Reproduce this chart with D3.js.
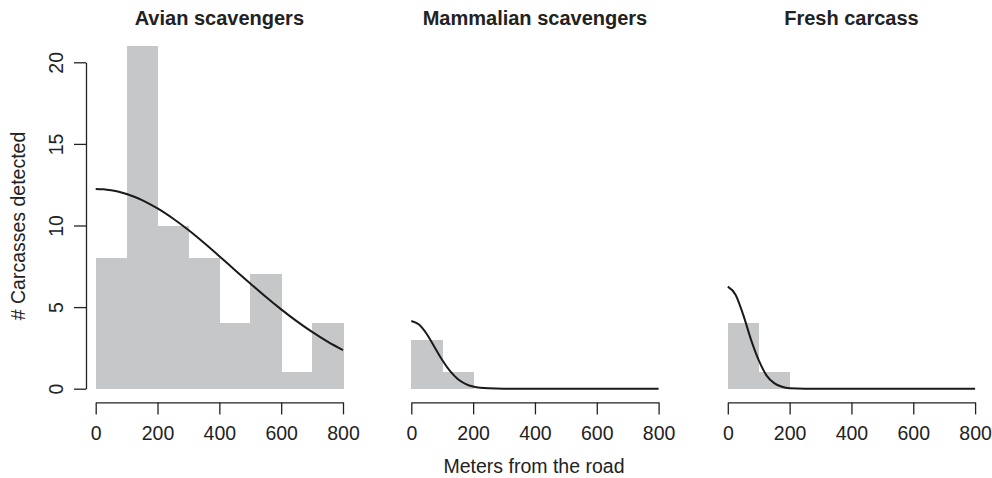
<!DOCTYPE html>
<html>
<head>
<meta charset="utf-8">
<script src="https://cdn.jsdelivr.net/npm/d3@7"></script>
<style>
    body { margin: 0; background: #fff; }
    svg { display: block; font-family: "Liberation Sans", Arial, Helvetica, sans-serif; }
</style>
</head>
<body>
<div id="chart"></div>
<script>

// panel titles and histogram bins (100 m wide)
var panelTitles = ["Avian scavengers", "Mammalian scavengers", "Fresh carcass"];
var binEdges = [0, 100, 200, 300, 400, 500, 600, 700, 800];

// carcasses detected per bin
var avianCounts = [8, 21, 10, 8, 4, 7, 1, 4];
var mammalCounts = [3, 1, 0, 0, 0, 0, 0, 0];
var freshCounts = [4, 1, 0, 0, 0, 0, 0, 0];

// fitted detection curves
var curveDist = [0, 25, 50, 75, 100, 125, 150, 175, 200, 250, 300, 350, 400, 450, 500, 550, 600, 650, 700, 750, 800];
var avianCurve = [12.24, 12.22, 12.16, 12.07, 11.93, 11.76, 11.55, 11.31, 11.05, 10.43, 9.72, 8.94, 8.12, 7.28, 6.45, 5.63, 4.86, 4.14, 3.48, 2.89, 2.37];
var mammalCurve = [4.15, 3.93, 3.35, 2.56, 1.76, 1.09, 0.60, 0.30, 0.13, 0.02, 0, 0, 0, 0, 0, 0, 0, 0, 0, 0, 0];
var freshCurve = [6.25, 5.76, 4.52, 3.01, 1.75, 0.82, 0.34, 0.12, 0.03, 0, 0, 0, 0, 0, 0, 0, 0, 0, 0, 0, 0];

var xTicks = [0, 200, 400, 600, 800];
var yTicks = [0, 5, 10, 15, 20];

var panels = [
    {title: panelTitles[0], counts: avianCounts, curve: avianCurve, yAxis: true},
    {title: panelTitles[1], counts: mammalCounts, curve: mammalCurve, yAxis: false},
    {title: panelTitles[2], counts: freshCounts, curve: freshCurve, yAxis: false}
];

var width = 992, height = 478;
var panelLeft = [95.7, 411.3, 727.8];   // pixel position of x = 0 in each panel
var panelWidth = 247.3;
var xAxisY = 402.4, yAxisX = 86;
var fontSize = 19.5;

var svg = d3.select("#chart").append("svg")
    .attr("width", width)
    .attr("height", height);

// y scale shared by all three panels
var y = d3.scaleLinear().domain([0, 20]).range([388.7, 62.3]);

panels.forEach(function (p, k) {
    var x = d3.scaleLinear().domain([0, 800]).range([panelLeft[k], panelLeft[k] + panelWidth]);
    var g = svg.append("g").classed("panel", true);

    // histogram bars (crisp edges so neighbouring bars don't show seams)
    var bins = p.counts.map(function (c, i) {
        return {x0: binEdges[i], x1: binEdges[i + 1], n: c};
    }).filter(function (d) { return d.n > 0; });

    g.selectAll(".bar").data(bins).enter().append("rect")
        .classed("bar", true)
        .attr("x", function (d) { return x(d.x0); })
        .attr("y", function (d) { return y(d.n); })
        .attr("width", function (d) { return x(d.x1) - x(d.x0) + 0.5; })
        .attr("height", function (d) { return y(0) - y(d.n); })
        .attr("shape-rendering", "crispEdges")
        .style("fill", "#c6c7c9");

    // detection curve
    var line = d3.line()
        .x(function (d, i) { return x(curveDist[i]); })
        .y(function (d) { return y(d); })
        .curve(d3.curveMonotoneX);

    g.append("path")
        .datum(p.curve)
        .attr("d", line)
        .style("fill", "none")
        .style("stroke", "#1a1a1a")
        .style("stroke-width", 2);

    // x axis
    var xAxis = g.append("g")
        .attr("transform", "translate(0," + xAxisY + ")")
        .call(d3.axisBottom(x).tickValues(xTicks).tickSize(12).tickSizeOuter(0).tickPadding(11.3));
    xAxis.select(".domain").style("stroke", "#222").style("stroke-width", 1.3);
    xAxis.selectAll(".tick line").style("stroke", "#222").style("stroke-width", 1.3);
    xAxis.selectAll(".tick text")
        .style("font-size", fontSize + "px")
        .style("fill", "#222");

    // y axis only on the first panel
    if (p.yAxis) {
        var yAxis = g.append("g")
            .attr("transform", "translate(" + yAxisX + ",0)")
            .call(d3.axisLeft(y).tickValues(yTicks).tickSize(12).tickSizeOuter(0));
        yAxis.select(".domain").style("stroke", "#222").style("stroke-width", 1.3);
        yAxis.selectAll(".tick line").style("stroke", "#222").style("stroke-width", 1.3);
        yAxis.selectAll(".tick text")
            .attr("x", null)
            .attr("transform", "translate(-30,0) rotate(-90)")
            .attr("dy", "0.35em")
            .attr("text-anchor", "middle")
            .style("font-size", fontSize + "px")
            .style("fill", "#222");
    }

    // title
    g.append("text")
        .attr("x", x(400))
        .attr("y", 25)
        .attr("text-anchor", "middle")
        .style("font-size", "20px")
        .style("font-weight", "bold")
        .style("fill", "#222")
        .text(p.title);
});

// axis titles
svg.append("text")
    .attr("x", 534)
    .attr("y", 473)
    .attr("text-anchor", "middle")
    .style("font-size", fontSize + "px")
    .style("fill", "#222")
    .text("Meters from the road");

svg.append("text")
    .attr("transform", "translate(18,226) rotate(-90)")
    .attr("dy", "0.35em")
    .attr("text-anchor", "middle")
    .style("font-size", fontSize + "px")
    .style("fill", "#222")
    .text("# Carcasses detected");

</script>
</body>
</html>
